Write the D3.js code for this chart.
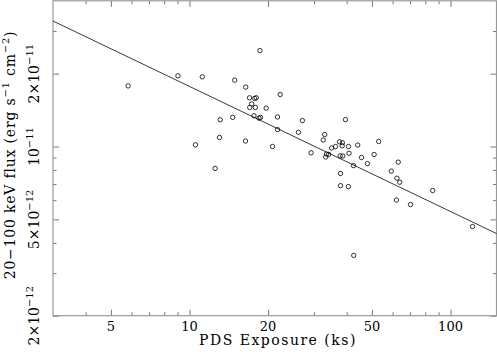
<!DOCTYPE html>
<html>
<head>
<meta charset="utf-8">
<script src="https://cdnjs.cloudflare.com/ajax/libs/d3/7.8.5/d3.min.js"></script>
<style>
body { margin: 0; background: #fff; }
text { font-family: "DejaVu Serif", serif; fill: #000; }
.tk line { stroke: #777; }
.tk path { display: none; }
</style>
</head>
<body>
<div id="chart"></div>
<script>
// PDS exposure (ks)
var exposure = [5.82, 9.03, 11.19, 14.90, 16.42, 16.98, 17.77, 18.01, 17.31, 17.01,
  17.88, 19.67, 22.26, 18.61, 14.64, 13.11, 13.03, 10.54, 12.54, 16.39,
  17.66, 18.46, 18.71, 21.74, 27.08, 21.74, 26.14, 20.80, 29.22, 32.96,
  32.53, 37.55, 38.52, 53.06, 39.59, 36.25, 35.05, 38.46, 40.65, 44.10,
  33.49, 34.15, 33.25, 37.79, 38.64, 40.84, 50.96, 45.60, 63.05, 42.50,
  48.04, 59.28, 62.33, 63.90, 37.89, 85.45, 37.89, 40.62, 62.06, 70.28,
  121.4, 42.57];
// 20-100 keV flux, in units of 1e-11 erg s-1 cm-2
var flux = [1.78, 1.96, 1.94, 1.88, 1.76, 1.59, 1.58, 1.59, 1.50, 1.45,
  1.45, 1.44, 1.64, 2.49, 1.32, 1.29, 1.09, 1.016, 0.812, 1.054,
  1.34, 1.31, 1.32, 1.325, 1.28, 1.175, 1.145, 1.00, 0.942, 1.121,
  1.064, 1.046, 1.037, 1.049, 1.292, 1.00, 0.986, 1.007, 1.00, 1.014,
  0.93, 0.928, 0.905, 0.914, 0.914, 0.938, 0.927, 0.901, 0.862, 0.834,
  0.85, 0.791, 0.74, 0.712, 0.774, 0.658, 0.689, 0.683, 0.601, 0.576,
  0.467, 0.355];

// fitted power law
var fitExposure = [3, 150];
var fitFlux = [3.30, 0.437];

var xMajor = [5, 10, 20, 50, 100];
var xMinor = [4, 6, 7, 8, 9, 30, 40, 60, 70, 80, 90];
var xLabels = ["5", "10", "20", "50", "100"];
var yMajor = [0.2, 0.5, 1, 2];
var yMinor = [0.3, 0.4, 0.6, 0.7, 0.8, 0.9, 3];
var yMant = ["2×10", "5×10", "10", "2×10"];
var yExp = ["−12", "−12", "−11", "−11"];

var W = 497, H = 354;
var pL = 53, pR = 496.5, pT = 0.8, pB = 315.7;

var x = d3.scaleLog().domain([3, 150]).range([pL, pR]);
var y = d3.scaleLog().domain([0.2, 4]).range([pB, pT]);

var svg = d3.select("#chart").append("svg")
  .attr("width", W)
  .attr("height", H);

// ticks on all four sides, pointing inward
function ticks(axis, vals, size, tr) {
  svg.append("g")
    .attr("class", "tk")
    .attr("transform", tr)
    .call(axis.tickValues(vals).tickSize(-size).tickFormat(""));
}
ticks(d3.axisBottom(x), xMajor, 6, "translate(0," + pB + ")");
ticks(d3.axisBottom(x), xMinor, 3.5, "translate(0," + pB + ")");
ticks(d3.axisTop(x), xMajor, 6, "translate(0," + pT + ")");
ticks(d3.axisTop(x), xMinor, 3.5, "translate(0," + pT + ")");
ticks(d3.axisLeft(y), yMajor, 6, "translate(" + pL + ",0)");
ticks(d3.axisLeft(y), yMinor, 3.5, "translate(" + pL + ",0)");
ticks(d3.axisRight(y), yMajor, 6, "translate(" + pR + ",0)");
ticks(d3.axisRight(y), yMinor, 3.5, "translate(" + pR + ",0)");

// frame
svg.append("rect")
  .attr("x", pL).attr("y", pT)
  .attr("width", pR - pL).attr("height", pB - pT)
  .attr("fill", "none")
  .attr("stroke", "#999")
  .attr("stroke-width", 1.2);

// x tick labels
svg.selectAll(".xl")
  .data(xMajor)
  .enter().append("text")
  .attr("class", "xl")
  .attr("x", function(d) { return x(d); })
  .attr("y", 330.5)
  .attr("text-anchor", "middle")
  .attr("font-size", 13)
  .text(function(d, i) { return xLabels[i]; });

// y tick labels, rotated, with exponent
var yl = svg.selectAll(".yl")
  .data(yMajor)
  .enter().append("text")
  .attr("class", "yl")
  .attr("transform", function(d) { return "translate(38.5," + y(d) + ") rotate(-90)"; })
  .attr("text-anchor", "middle")
  .attr("font-size", 14);
yl.append("tspan").text(function(d, i) { return yMant[i]; });
yl.append("tspan").attr("dy", -6).attr("font-size", 10).text(function(d, i) { return yExp[i]; });

// axis titles
svg.append("text")
  .attr("x", 278)
  .attr("y", 344.5)
  .attr("text-anchor", "middle")
  .attr("font-size", 14)
  .attr("letter-spacing", 1.5)
  .text("PDS Exposure (ks)");

var yt = svg.append("text")
  .attr("transform", "translate(15,155) rotate(-90)")
  .attr("text-anchor", "middle")
  .attr("font-size", 14)
  .attr("letter-spacing", 0.8);
yt.append("tspan").text("20−100 keV flux (erg s");
yt.append("tspan").attr("dy", -6).attr("font-size", 10).text("−1");
yt.append("tspan").attr("dy", 6).text(" cm");
yt.append("tspan").attr("dy", -6).attr("font-size", 10).text("−2");
yt.append("tspan").attr("dy", 6).text(")");

// fit line
var fit = fitExposure.map(function(d, i) { return [d, fitFlux[i]]; });
svg.append("path")
  .datum(fit)
  .attr("fill", "none")
  .attr("stroke", "#222")
  .attr("stroke-width", 0.9)
  .attr("d", d3.line()
    .x(function(d) { return x(d[0]); })
    .y(function(d) { return y(d[1]); }));

// data points
svg.selectAll(".pt")
  .data(exposure)
  .enter().append("circle")
  .attr("class", "pt")
  .attr("cx", function(d) { return x(d); })
  .attr("cy", function(d, i) { return y(flux[i]); })
  .attr("r", 2.2)
  .attr("fill", "none")
  .attr("stroke", "#000")
  .attr("stroke-width", 0.8);
</script>
</body>
</html>
